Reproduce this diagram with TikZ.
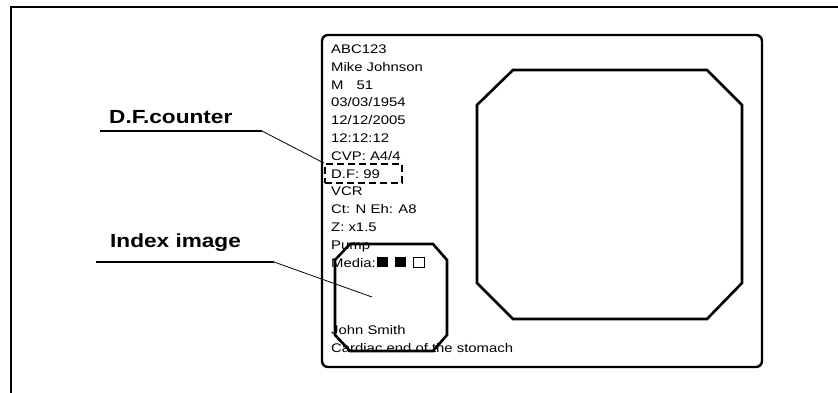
\documentclass[tikz,border=0pt]{standalone}
\usepackage{fontspec}
\setmainfont{Liberation Sans}[FakeStretch=1.19]
\usetikzlibrary{positioning,calc}
\newcommand{\fullsq}{\rule{11pt}{10pt}}
\newcommand{\emptysq}{{\fboxsep=0pt\fboxrule=0.7pt\fbox{\rule{0pt}{9.5pt}\hspace{10.5pt}}}}
\tikzset{info/.style={align=left,inner sep=0pt,anchor=north west,font=\fontsize{12.5}{17.8}\selectfont},lbl/.style={inner sep=0pt,anchor=base west,font=\fontsize{19}{21}\selectfont\bfseries},screen/.style={line width=2.4pt,rounded corners=6pt},oct/.style={line width=2.6pt,line join=miter},uline/.style={line width=1.8pt},lead/.style={line width=0.8pt},dfbox/.style={draw,dash pattern=on 7pt off 4pt,line width=1.8pt,minimum width=77pt,minimum height=19pt,inner sep=0pt}}

\begin{document}
\begin{tikzpicture}[x=1pt,y=-1pt]
\useasboundingbox (0,0) rectangle (838,393);
% outer page frame
\draw[line width=2pt] (11,393) -- (11,7) -- (838,7);
% monitor screen
\draw[screen] (322,35) rectangle (762,367);
\draw[oct] (513,70) -- (707,70) -- (742,105) -- (742,283) -- (707,319) -- (513,319) -- (477,283) -- (477,105) -- cycle;
% text overlay
\node[info] (info) at (331,44.5) {ABC123\\Mike Johnson\\M\hspace{13pt}51\\03/03/1954\\12/12/2005\\12:12:12\\CVP: A4/4\\D.F: 99\\VCR\\Ct: N Eh: A8\\Z: x1.5\\Pump\\Media:\hspace{1pt}\fullsq\hspace{7pt}\fullsq\hspace{7pt}\emptysq};
\node[info] (patient) at (331,325) {John Smith\\Cardiac end of the stomach};
% index image
\draw[oct] (350,244) -- (433,244) -- (447,260) -- (447,335) -- (433,351) -- (350,351) -- (335,335) -- (335,260) -- cycle;
\coordinate (idx) at (372,297);
\node[dfbox] (df) at (363.5,173.5) {};
% callouts
\node[lbl] (dflbl) at (109,124) {D.F.counter};
\node[lbl] (idxlbl) at (110,247) {Index image};
\coordinate (dfa) at (100,131);
\coordinate (dfb) at (262,131);
\coordinate (idxa) at (96,262);
\coordinate (idxb) at (274,262);
\draw[uline] (dfa) -- (dfb);
\draw[lead] (dfb) -- (df.north west);
\draw[uline] (idxa) -- (idxb);
\draw[lead] (idxb) -- (idx);
\end{tikzpicture}
\end{document}
